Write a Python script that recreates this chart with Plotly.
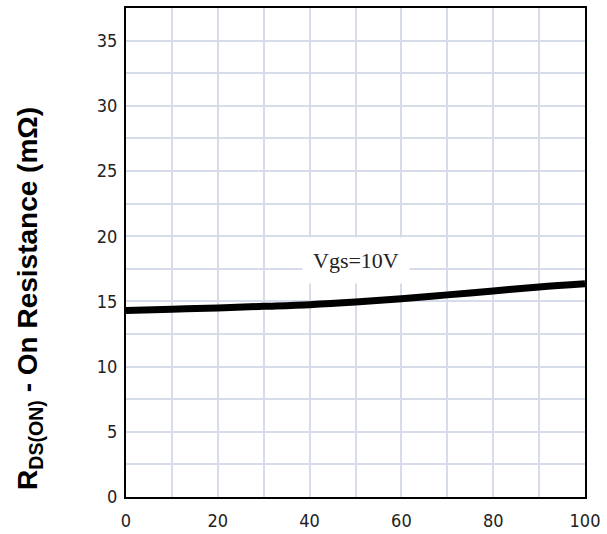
import plotly.graph_objects as go

# Data
temp_c = [0, 10, 20, 30, 40, 50, 60, 70, 80, 90, 100]
rds_on_mohm = [14.3, 14.4, 14.5, 14.62, 14.75, 14.95, 15.2, 15.5, 15.8, 16.1, 16.35]
x_ticks = [0, 20, 40, 60, 80, 100]
y_ticks = [0, 5, 10, 15, 20, 25, 30, 35]
curve_label = "Vgs=10V"
y_title = "R<sub>DS(ON)</sub> - On Resistance (mΩ)"

W, H = 607, 534
L, R, T, B = 126, 22, 8, 37

fig = go.Figure()
fig.add_trace(go.Scatter(
    x=temp_c, y=rds_on_mohm, mode="lines",
    line=dict(color="black", width=7, shape="spline"),
    showlegend=False, hoverinfo="skip",
))

tick_font = dict(family="DejaVu Sans Condensed, Liberation Sans Narrow, Liberation Sans", size=18, color="#222")
grid_color = "#d6dcea"

fig.update_layout(
    width=W, height=H,
    margin=dict(l=L, r=R, t=T, b=B, autoexpand=False),
    paper_bgcolor="white", plot_bgcolor="white",
    xaxis=dict(
        range=[0, 100], tickvals=x_ticks, ticks="", showgrid=True,
        gridcolor=grid_color, gridwidth=1.5, automargin=False,
        minor=dict(dtick=10, showgrid=True, gridcolor=grid_color, gridwidth=1.5),
        showline=True, linecolor="black", linewidth=2, mirror=True,
        tickfont=tick_font, zeroline=False, ticklabelstandoff=6,
    ),
    yaxis=dict(
        range=[0, 37.5], tickvals=y_ticks, ticks="", showgrid=True,
        gridcolor=grid_color, gridwidth=1.5, automargin=False,
        minor=dict(dtick=2.5, showgrid=True, gridcolor=grid_color, gridwidth=1.5),
        showline=True, linecolor="black", linewidth=2, mirror=True,
        tickfont=tick_font, zeroline=False, ticklabelstandoff=3,
    ),
    annotations=[
        dict(x=50, y=18.1, xref="x", yref="y", text=curve_label, showarrow=False,
             font=dict(family="Liberation Serif, Times New Roman, serif", size=22, color="#222"),
             bgcolor="white", borderpad=10),
        dict(x=(29 - L) / (W - L - R), y=1 - (299 - T) / (H - T - B),
             xref="paper", yref="paper", text="<b>" + y_title + "</b>", showarrow=False,
             textangle=-90,
             font=dict(family="Liberation Sans, Arial, sans-serif", size=28, color="black"),
             xanchor="center", yanchor="middle"),
    ],
)
fig.write_html("out.html", config={"displayModeBar": False},
               post_script="document.body.style.margin='0';")
